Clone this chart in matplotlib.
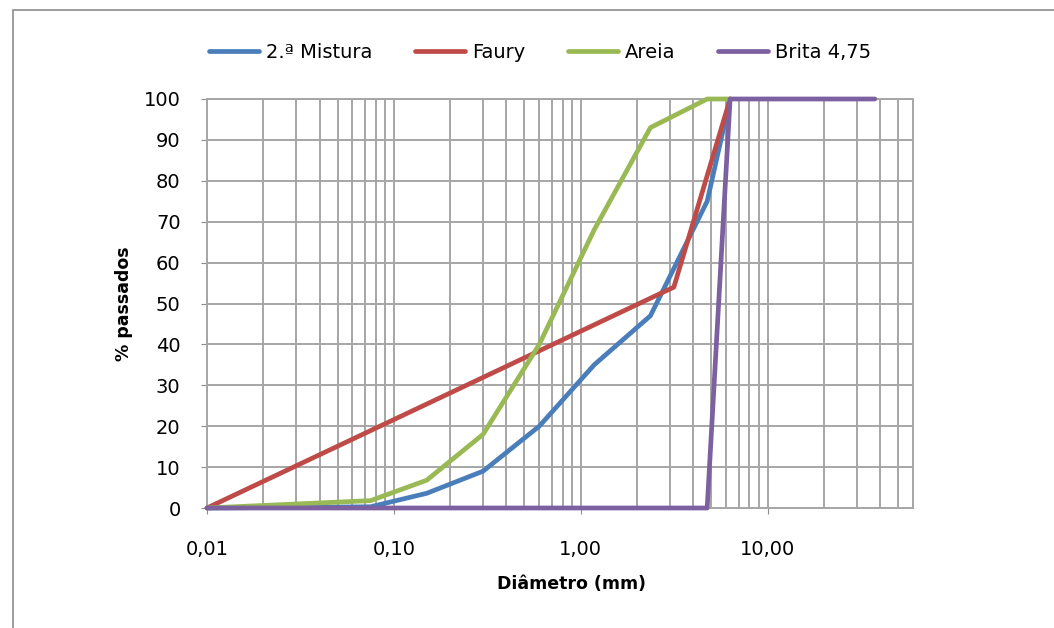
import matplotlib
matplotlib.use("Agg")
import matplotlib.pyplot as plt
from matplotlib.patches import Rectangle
from matplotlib.ticker import FixedLocator, LogLocator, NullFormatter

plt.rcParams['font.family'] = ['DejaVu Sans']

# peneiros (mm) e % passados
diam = [0.01, 0.075, 0.15, 0.3, 0.6, 1.18, 2.36, 4.75, 6.3]
mistura = [0, 0.3, 3.6, 9, 20, 35, 47, 75, 100]
areia = [0, 1.8, 6.8, 18, 40, 68, 93, 100, 100]

faury_d = [0.01, 3.15, 6.3]
faury = [0, 54, 100]

brita_d = [0.01, 4.75, 6.3, 37.5]
brita = [0, 0, 100, 100]

series = [
    ('2.ª Mistura', diam, mistura, '#4a7ebb'),
    ('Faury', faury_d, faury, '#be4b48'),
    ('Areia', diam, areia, '#98b954'),
    ('Brita 4,75', brita_d, brita, '#7d60a0'),
]

xticks = [0.01, 0.1, 1, 10]
xlabels = ['0,01', '0,10', '1,00', '10,00']

fig = plt.figure(figsize=(10.54, 6.28), dpi=100)
fig.patches.append(Rectangle((13/1054, -0.1), 1.2, 1 - 10/628 + 0.1,
                             transform=fig.transFigure, fill=False,
                             edgecolor='#8c8c8c', lw=1.2))
ax = fig.add_axes([207/1054, 1 - 508/628, (913 - 207)/1054, (508 - 99)/628])

for name, x, y, c in series:
    ax.plot(x, y, color=c, lw=3.4, label=name, solid_capstyle='round',
            zorder=3, clip_on=False)

ax.set_xscale('log')
ax.set_xlim(0.01, 60)
ax.set_ylim(0, 100)
ax.set_yticks(range(0, 101, 10))
ax.xaxis.set_major_locator(FixedLocator(xticks))
ax.set_xticklabels(xlabels)
ax.xaxis.set_minor_locator(LogLocator(base=10, subs=range(2, 10)))
ax.xaxis.set_minor_formatter(NullFormatter())
ax.grid(True, which='both', color='#a6a6a6', lw=1.4)
ax.tick_params(which='both', colors='#8c8c8c', labelcolor='black',
               labelsize=14, length=4)
ax.tick_params(axis='x', which='minor', length=0)
ax.tick_params(axis='x', pad=19)
ax.tick_params(axis='y', pad=15)
for s in ax.spines.values():
    s.set_color('#a6a6a6')
    s.set_linewidth(1.4)

ax.set_xlabel('Diâmetro (mm)', fontsize=12.5, fontweight='bold')
ax.xaxis.set_label_coords(0.516, -0.163)
ax.set_ylabel('% passados', fontsize=12.5, fontweight='bold', labelpad=8)

fig.legend(loc='center', bbox_to_anchor=(540/1054, 1 - 52/628), ncol=4,
           frameon=False, fontsize=14, handlelength=2.57, handletextpad=0.36,
           columnspacing=2.2)

fig.savefig('out.png', dpi=100)
